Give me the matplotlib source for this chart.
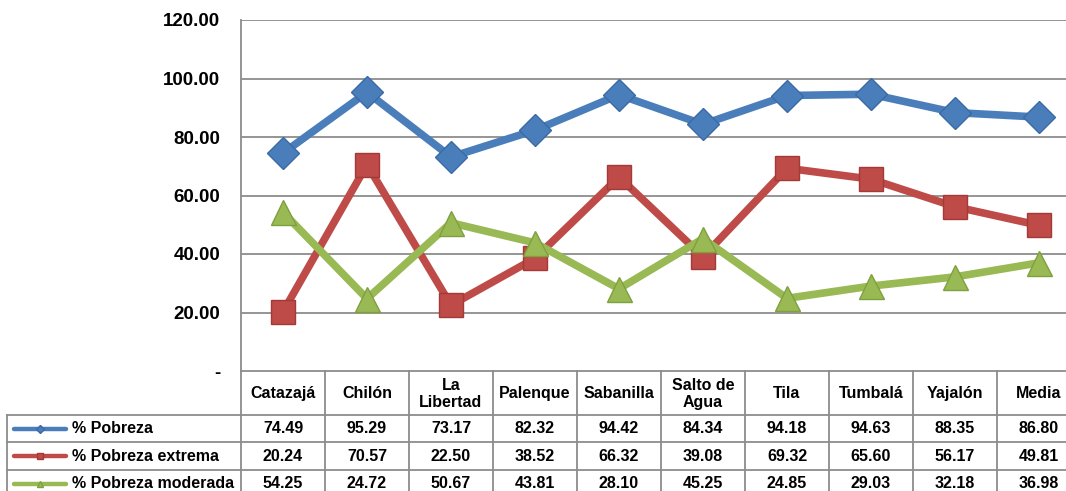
import matplotlib.pyplot as plt
from matplotlib import transforms
from matplotlib.lines import Line2D

plt.rcParams['font.family'] = ['Liberation Sans', 'DejaVu Sans']
plt.rcParams['font.weight'] = 'bold'

# Datos
municipios = ['Catazajá', 'Chilón', 'La\nLibertad', 'Palenque', 'Sabanilla',
              'Salto de\nAgua', 'Tila', 'Tumbalá', 'Yajalón', 'Media']
pobreza = [74.49, 95.29, 73.17, 82.32, 94.42, 84.34, 94.18, 94.63, 88.35, 86.80]
pobreza_extrema = [20.24, 70.57, 22.50, 38.52, 66.32, 39.08, 69.32, 65.60, 56.17, 49.81]
pobreza_moderada = [54.25, 24.72, 50.67, 43.81, 28.10, 45.25, 24.85, 29.03, 32.18, 36.98]
yticks = [0, 20, 40, 60, 80, 100, 120]
ytick_labels = ['-', '20.00', '40.00', '60.00', '80.00', '100.00', '120.00']

series = [
    ('% Pobreza', pobreza, '#4A7EBB', '#3A6AA6', 'D', 16),
    ('% Pobreza extrema', pobreza_extrema, '#BE4B48', '#A33A37', 's', 17),
    ('% Pobreza moderada', pobreza_moderada, '#98B954', '#7FA03E', '^', 18),
]

W, H = 1066, 491
fig = plt.figure(figsize=(W / 100, H / 100), dpi=100)
ax = fig.add_axes([241 / W, (H - 371) / H, (1081 - 241) / W, (371 - 20) / H])

grid_c = '#8C8C8C'
x = list(range(len(municipios)))
for nombre, vals, c, ec, m, ms in series:
    ax.plot(x, vals, color=c, lw=5.5, marker=m, markersize=ms,
            markerfacecolor=c, markeredgecolor=ec, markeredgewidth=1, zorder=3,
            solid_joinstyle='miter')

ax.set_xlim(-0.5, len(municipios) - 0.5)
ax.set_ylim(0, 120)
ax.set_yticks(yticks)
ax.set_yticklabels(ytick_labels, fontsize=13.5, fontweight='bold')
ax.tick_params(axis='y', length=0, pad=15)
ax.set_xticks([])
for v in yticks[1:]:
    ax.axhline(v, color=grid_c, lw=1.3, zorder=1)
for s in ['top', 'right']:
    ax.spines[s].set_visible(False)
ax.spines['left'].set_color(grid_c)
ax.spines['left'].set_linewidth(1.3)
ax.spines['bottom'].set_color(grid_c)
ax.spines['bottom'].set_linewidth(1.3)

# Tabla de datos (coordenadas en pixeles del lienzo, y hacia abajo)
pix = transforms.Affine2D().scale(1 / W, -1 / H).translate(0, 1) + fig.transFigure
bt = transforms.blended_transform_factory(ax.transData, pix)

top, header_bottom = 371, 415
row_lines = [415, 442.5, 470, 497.5]
n = len(municipios)

def line(xs, ys, tr):
    fig.add_artist(Line2D(xs, ys, transform=tr, color=grid_c, lw=1.3, clip_on=False))

for i in range(n + 1):
    line([i - 0.5, i - 0.5], [top, row_lines[-1]], bt)
for yl in row_lines:
    line([7, 241], [yl, yl], pix)
    line([-0.5, n - 0.5], [yl, yl], bt)
line([7, 7], [row_lines[0], row_lines[-1]], pix)

for i, name in enumerate(municipios):
    fig.text(i, (top + header_bottom) / 2 + 1, name, transform=bt, ha='center',
             va='center', fontsize=11.5, fontweight='bold', linespacing=1.2)

for r, (nombre, vals, c, ec, m, ms) in enumerate(series):
    yc = (row_lines[r] + row_lines[r + 1]) / 2
    for i, v in enumerate(vals):
        fig.text(i, yc, f'{v:.2f}', transform=bt, ha='center', va='center',
                 fontsize=11.5, fontweight='bold')
    fig.add_artist(Line2D([14, 66], [yc, yc], transform=pix, color=c, lw=3.2,
                          solid_capstyle='round', clip_on=False))
    fig.add_artist(Line2D([40], [yc], transform=pix, marker=m, markersize=4,
                          color=c, markeredgecolor=ec, clip_on=False))
    fig.text(72, yc, nombre, transform=pix, ha='left', va='center',
             fontsize=11.5, fontweight='bold')

fig.savefig('out.png', dpi=100)
